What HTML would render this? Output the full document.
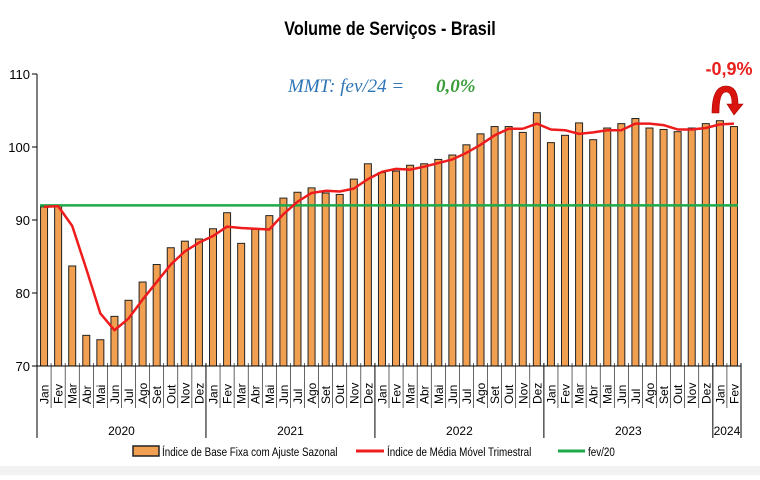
<!DOCTYPE html>
<html><head><meta charset="utf-8"><style>
body{margin:0;width:760px;height:475px;overflow:hidden;background:#fff;font-family:"Liberation Sans",sans-serif}
</style></head><body>
<svg id="c" width="760" height="475" xmlns="http://www.w3.org/2000/svg">
<rect x="0" y="466" width="760" height="9" fill="#f2f2f2"/>
<text x="390" y="35" text-anchor="middle" font-size="19" font-weight="bold" transform="translate(390 0) scale(0.85 1) translate(-390 0)">Volume de Serviços - Brasil</text>
<text x="288" y="92" font-size="19" font-style="italic" fill="#2e75b6" font-family="Liberation Serif,serif">MMT: fev/24 =</text>
<text x="436" y="92" font-size="19" font-style="italic" font-weight="bold" fill="#3a9d3a" font-family="Liberation Serif,serif">0,0%</text>
<text x="729" y="75" text-anchor="middle" font-size="18" font-weight="bold" fill="#e8211e">-0,9%</text>
<path d="M712 113 Q712 86 726 86 Q738 86 738 104 L743 104 L734 115 L727 104 L732 104 Q732 92 726 92 Q719 92 719 113 Z" fill="#d9140f" stroke="#a00" stroke-width="0.6"/>
<g id="g"></g>
</svg>
<script>
const months=["Jan","Fev","Mar","Abr","Mai","Jun","Jul","Ago","Set","Out","Nov","Dez"];
const years=["2020","2021","2022","2023","2024"];
const indexValues=[91.8,92.0,83.7,74.2,73.6,76.8,79.0,81.5,83.9,86.2,87.1,87.4,
88.8,91.0,86.8,88.7,90.6,93.0,93.8,94.4,93.7,93.5,95.6,97.7,
96.5,96.7,97.5,97.7,98.3,98.9,100.3,101.8,102.8,102.8,102.0,104.7,
100.6,101.6,103.3,101.0,102.6,103.2,103.9,102.6,102.4,102.1,102.6,103.2,
103.6,102.8];
const movingAvg=[91.8,91.9,89.2,83.3,77.2,74.9,76.5,79.1,81.5,83.9,85.7,86.9,
87.8,89.1,88.9,88.8,88.7,90.8,92.5,93.7,94.0,93.9,94.3,95.6,
96.6,97.0,96.9,97.3,97.8,98.3,99.2,100.3,101.6,102.5,102.5,103.2,
102.4,102.3,101.8,102.0,102.3,102.3,103.2,103.2,103.0,102.4,102.4,102.6,
103.1,103.2];
const refValue=92.0;
const yTicks=[70,80,90,100,110];
const X0=37,X1=741,Y0=366,Y1=74,YMIN=70,YMAX=110;
const n=indexValues.length,pitch=(X1-X0)/n;
const xc=i=>X0+(i+0.5)*pitch;
const y=v=>Y0-(v-YMIN)/(YMAX-YMIN)*(Y0-Y1);
const g=document.getElementById('g');
const NS="http://www.w3.org/2000/svg";
function mk(t,a){const e=document.createElementNS(NS,t);for(const k in a)e.setAttribute(k,a[k]);g.appendChild(e);return e;}
// y axis
let e=mk('line',{x1:X0,y1:Y1,x2:X0,y2:Y0,stroke:'#000','stroke-width':1});


yTicks.forEach(t=>{
 let l=mk('line',{x1:X0-5,x2:X0,y1:y(t),y2:y(t),stroke:'#000'});
 
 
 let tx=mk('text',{x:X0-7,y:y(t)+5,'text-anchor':'end','font-size':13});
 tx.textContent=t;
 
 
});
// bars
indexValues.forEach((v,i)=>{
 let r=mk('rect',{x:xc(i)-3.5,y:y(v),width:7,height:Y0-y(v),fill:'#f0a050',stroke:'#222','stroke-width':1});
 
 
});
// ref line
e=mk('line',{x1:xc(0)-4,x2:xc(n-1)+4,y1:y(refValue),y2:y(refValue),stroke:'#1faa4a','stroke-width':2.5});


// moving avg
e=mk('polyline',{points:movingAvg.map((v,i)=>xc(i)+','+y(v)).join(' '),fill:'none',stroke:'#ee1c1c','stroke-width':2.5,'stroke-linejoin':'round'});


// x axis
e=mk('line',{x1:X0,x2:X1,y1:Y0,y2:Y0,stroke:'#000'});


for(let i=0;i<=n;i++){
 let xx=X0+i*pitch;
 let big=(i%12===0)||i===n;
 let l=mk('line',{x1:xx,x2:xx,y1:Y0-3,y2:big?438:408,stroke:'#000','stroke-width':big?1:0.6});
 
 
}
for(let i=0;i<n;i++){
 let t=mk('text',{transform:`translate(${xc(i)+4.5},404) rotate(-90)`,'font-size':12});
 t.textContent=months[i%12];
 
 
}
years.forEach((yr,k)=>{
 let s=k*12,en=Math.min(n,s+12);
 let t=mk('text',{x:(X0+s*pitch+X0+en*pitch)/2,y:435,'text-anchor':'middle','font-size':12});
 t.textContent=yr;
 
 
});
// legend
e=mk('rect',{x:133,y:446,width:26,height:10,fill:'#f0a050',stroke:'#222','stroke-width':1.5});


const leg=[[162,'Índice de Base Fixa com Ajuste Sazonal'],[387,'Índice de Média Móvel Trimestral'],[588,'fev/20']];
e=mk('line',{x1:356,x2:384,y1:451,y2:451,stroke:'#ee1c1c','stroke-width':3});


e=mk('line',{x1:558,x2:585,y1:451,y2:451,stroke:'#1faa4a','stroke-width':3});


leg.forEach(([x,s])=>{
 let t=mk('text',{x:x,y:456,'font-size':12,transform:`translate(${x} 0) scale(0.82 1) translate(${-x} 0)`});
 t.textContent=s;
 
 
});
</script>
</body></html>
